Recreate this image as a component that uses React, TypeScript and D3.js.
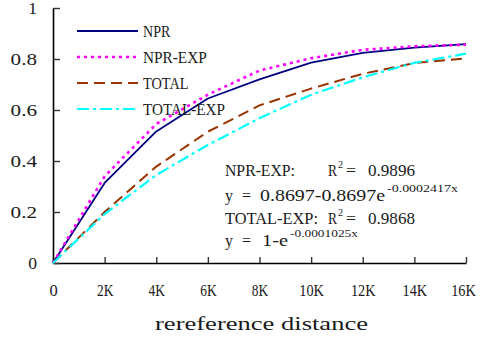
import { useEffect, useRef } from 'react';
import * as d3 from 'd3';

// distances (x axis), one value per 2K step
const distances = [0, 2000, 4000, 6000, 8000, 10000, 12000, 14000, 16000];
const nprValues = [0, 0.314, 0.516, 0.645, 0.72, 0.786, 0.824, 0.845, 0.858];
const nprExpValues = [0, 0.34, 0.545, 0.66, 0.755, 0.803, 0.836, 0.85, 0.856];
const totalValues = [0, 0.2, 0.378, 0.515, 0.618, 0.684, 0.742, 0.784, 0.802];
const totalExpValues = [0, 0.192, 0.345, 0.463, 0.568, 0.66, 0.728, 0.785, 0.821];

const seriesNames = ['NPR', 'NPR-EXP', 'TOTAL', 'TOTAL-EXP'];
const xTicks = [0, 2000, 4000, 6000, 8000, 10000, 12000, 14000, 16000];
const yTicks = [0, 0.2, 0.4, 0.6, 0.8, 1];

const FONT = '"Liberation Serif", "DejaVu Serif", serif';
const TEXT = '#1a1a1a';

export default function App() {
  const svgRef = useRef<SVGSVGElement>(null);

  useEffect(() => {
    if (!svgRef.current) return;
    const svg = d3.select(svgRef.current);
    svg.selectAll('*').remove();

    const width = 480;
    const height = 340;
    const margin = { top: 8, right: 14, bottom: 77, left: 53 };

    const x = d3.scaleLinear().domain([0, 16000]).range([margin.left, width - margin.right]);
    const y = d3.scaleLinear().domain([0, 1]).range([height - margin.bottom, margin.top]);

    const series = [
      { name: seriesNames[0], values: nprValues, color: '#000080', dash: null, w: 1.8 },
      { name: seriesNames[1], values: nprExpValues, color: '#ff00ff', dash: '3,4', w: 2.6 },
      { name: seriesNames[2], values: totalValues, color: '#993300', dash: '11,6', w: 2 },
      { name: seriesNames[3], values: totalExpValues, color: '#00ffff', dash: '12,4,3,4', w: 2.2 },
    ];

    // text helper: SimSun-like half-width grid, faked with textLength
    const txt = (
      parent: d3.Selection<any, any, any, any>,
      s: string, tx: number, ty: number, size: number, len: number
    ) => parent.append('text')
      .attr('x', tx)
      .attr('y', ty)
      .attr('textLength', len)
      .attr('lengthAdjust', 'spacingAndGlyphs')
      .style('font-family', FONT)
      .style('font-size', `${size}px`)
      .attr('fill', TEXT)
      .text(s);

    // x axis (ticks point up into the plot)
    const xAxis = d3.axisBottom(x)
      .tickValues(xTicks)
      .tickSizeInner(-6)
      .tickSizeOuter(0)
      .tickPadding(22)
      .tickFormat(d => (+d === 0 ? '0' : `${+d / 1000}K`));
    const gx = svg.append('g')
      .attr('transform', `translate(0,${y(0)})`)
      .call(xAxis);
    gx.select('.domain').attr('stroke', '#000').attr('stroke-width', 1.6);
    gx.selectAll('.tick line').attr('stroke', '#333').attr('stroke-width', 1.4);
    gx.selectAll<SVGTextElement, number>('.tick text')
      .style('font-family', FONT)
      .style('font-size', '16px')
      .attr('fill', TEXT)
      .attr('lengthAdjust', 'spacingAndGlyphs')
      .attr('textLength', function () { return (this.textContent || '').length * 8.2; })
      .attr('dx', d => (d === 16000 ? -3 : 0));

    // y axis (ticks point right into the plot)
    const yAxis = d3.axisLeft(y)
      .tickValues(yTicks)
      .tickSizeInner(-7)
      .tickSizeOuter(0)
      .tickPadding(16)
      .tickFormat(d => (+d === 0 || +d === 1 ? `${d}` : d3.format('.1f')(+d)));
    const gy = svg.append('g')
      .attr('transform', `translate(${x(0)},0)`)
      .call(yAxis);
    gy.select('.domain').attr('stroke', '#000').attr('stroke-width', 1.6);
    gy.selectAll('.tick line').attr('stroke', '#333').attr('stroke-width', 1.4);
    gy.selectAll<SVGTextElement, number>('.tick text')
      .style('font-family', FONT)
      .style('font-size', '16px')
      .attr('fill', TEXT)
      .attr('lengthAdjust', 'spacingAndGlyphs')
      .attr('textLength', function () { return (this.textContent || '').length * 8.8; });

    // axis title
    txt(svg, 'rereference distance', 155, 330, 18.5, 213);

    // series lines
    const line = d3.line<number>()
      .x((_, i) => x(distances[i]))
      .y(d => y(d));

    series.forEach(s => {
      svg.append('path')
        .datum(s.values)
        .attr('d', line)
        .attr('fill', 'none')
        .attr('stroke', s.color)
        .attr('stroke-width', s.w)
        .attr('stroke-dasharray', s.dash)
        .attr('stroke-linejoin', 'round');
    });

    // legend
    const legend = svg.append('g').attr('transform', 'translate(77,31)');
    series.forEach((s, i) => {
      const g = legend.append('g').attr('transform', `translate(0,${i * 26})`);
      g.append('line')
        .attr('x1', 0).attr('x2', 61)
        .attr('stroke', s.color)
        .attr('stroke-width', s.w)
        .attr('stroke-dasharray', s.dash);
      txt(g, s.name, 66, 6, 17, s.name.length * 9.1);
    });

    // fit annotations
    const note = svg.append('g');
    txt(note, 'NPR-EXP:', 225, 176, 16.5, 70);
    txt(note, 'R', 328, 176, 16.5, 9);
    txt(note, '2', 338, 168, 10, 5);
    txt(note, '=', 346, 176, 16.5, 10);
    txt(note, '0.9896', 368, 176, 16.5, 47);

    txt(note, 'y', 225, 201, 16.5, 8);
    txt(note, '=', 242, 201, 16.5, 9);
    txt(note, '0.8697-0.8697e', 260, 201, 16.5, 125);
    txt(note, '-0.0002417x', 387, 192, 11, 71);

    txt(note, 'TOTAL-EXP:', 225, 224, 16.5, 93);
    txt(note, 'R', 328, 224, 16.5, 9);
    txt(note, '2', 338, 216, 10, 5);
    txt(note, '=', 346, 224, 16.5, 10);
    txt(note, '0.9868', 368, 224, 16.5, 47);

    txt(note, 'y', 225, 246, 16.5, 8);
    txt(note, '=', 242, 246, 16.5, 9);
    txt(note, '1-e', 262, 246, 16.5, 26);
    txt(note, '-0.0001025x', 290, 237, 11, 68);
  }, []);

  return (
    <div style={{ position: 'absolute', left: 0, top: 0 }}>
      <svg ref={svgRef} width={480} height={340} style={{ display: 'block', background: '#fff' }} />
    </div>
  );
}
